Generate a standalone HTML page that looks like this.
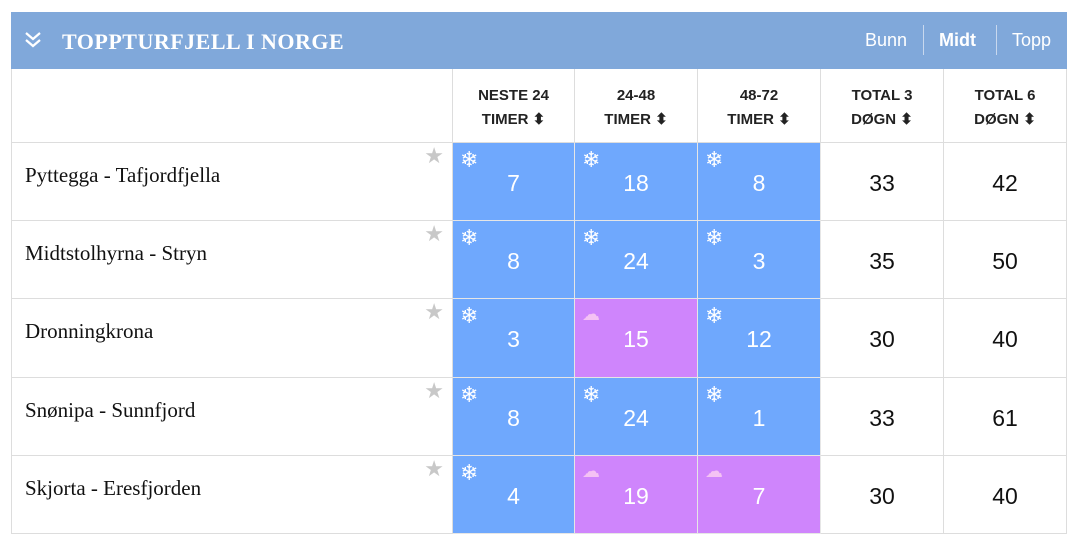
<!DOCTYPE html>
<html><head><meta charset="utf-8"><style>
body{margin:0;width:1080px;height:545px;background:#fff;position:relative;overflow:hidden;font-family:"Liberation Sans",sans-serif}
.bar{position:absolute;left:11px;top:12px;width:1056px;height:57px;background:#80a8da}
.title{position:absolute;left:62px;top:29px;color:#fff;font-family:"Liberation Serif",serif;font-weight:bold;font-size:22px;letter-spacing:0.5px}
.nav{position:absolute;top:30px;color:#fff;font-size:18px}
.sep{position:absolute;top:25px;width:1px;height:30px;background:#c8d8ee}
.c{position:absolute;box-sizing:border-box;border-right:1px solid #ddd;border-bottom:1px solid #ddd}
.h{font-weight:bold;font-size:15px;text-align:center;color:#222;line-height:24px;padding-top:15px}
.num{font-size:23px;text-align:center;line-height:1}
.b{background:#6fa8fd;color:#fff;border-color:#e6e6e6}
.p{background:#cf85fc;color:#fff;border-color:#e6e6e6}
.ic{position:absolute;left:7px;top:6px;font-size:22px;color:#fff;line-height:1}
.ic.cl{color:#f4c2f4;font-size:18px}
.nm{font-family:"Liberation Serif",serif;font-size:21px;color:#111;position:absolute;left:13px;top:20px}
.star{position:absolute;right:8px;top:0px;color:#c8c8c8;font-size:22px}
</style></head><body>
<div class="bar"></div>
<svg style="position:absolute;left:24px;top:31px" width="18" height="18" viewBox="0 0 18 18"><path d="M2 2 L9 8 L16 2 M2 9 L9 15 L16 9" stroke="#fff" stroke-width="2.2" fill="none"/></svg>
<div class="title">TOPPTURFJELL I NORGE</div>
<div class="nav" style="left:865px">Bunn</div>
<div class="sep" style="left:923px"></div>
<div class="nav" style="left:939px;font-weight:bold">Midt</div>
<div class="sep" style="left:996px"></div>
<div class="nav" style="left:1012px">Topp</div>
<div id="t"></div>
<script>
var X=[11,453,575,698,821,944,1067],Y=[69,143,221,299,378,456,534];
var H=["","NESTE 24<br>TIMER ⬍","24-48<br>TIMER ⬍","48-72<br>TIMER ⬍","TOTAL 3<br>DØGN ⬍","TOTAL 6<br>DØGN ⬍"];
var R=[["Pyttegga - Tafjordfjella","b7","b18","b8","33","42"],["Midtstolhyrna - Stryn","b8","b24","b3","35","50"],["Dronningkrona","b3","p15","b12","30","40"],["Snønipa - Sunnfjord","b8","b24","b1","33","61"],["Skjorta - Eresfjorden","b4","p19","p7","30","40"]];
var s="";
for(var i=0;i<6;i++){s+='<div class="c h" style="left:'+X[i]+'px;top:69px;width:'+(X[i+1]-X[i])+'px;height:74px;'+(i==0?'border-left:1px solid #ddd;':'')+'">'+H[i]+'</div>';}
for(var r=0;r<5;r++){var y=Y[r+1],h=Y[r+2]-y;
for(var i=0;i<6;i++){var st='left:'+X[i]+'px;top:'+y+'px;width:'+(X[i+1]-X[i])+'px;height:'+h+'px;';var v=R[r][i];
if(i==0){s+='<div class="c" style="'+st+'border-left:1px solid #ddd"><div class="nm">'+v+'</div><div class="star">★</div></div>';}
else if(i<4){var k=v[0],n=v.slice(1);s+='<div class="c '+k+'" style="'+st+'">'+(k=="b"?'<div class="ic">❄</div>':'<div class="ic cl">☁</div>')+'<div class="num" style="padding-top:29px">'+n+'</div></div>';}
else s+='<div class="c num" style="'+st+'padding-top:29px;color:#111">'+v+'</div>';}}
document.getElementById("t").innerHTML=s;
</script>
</body></html>
